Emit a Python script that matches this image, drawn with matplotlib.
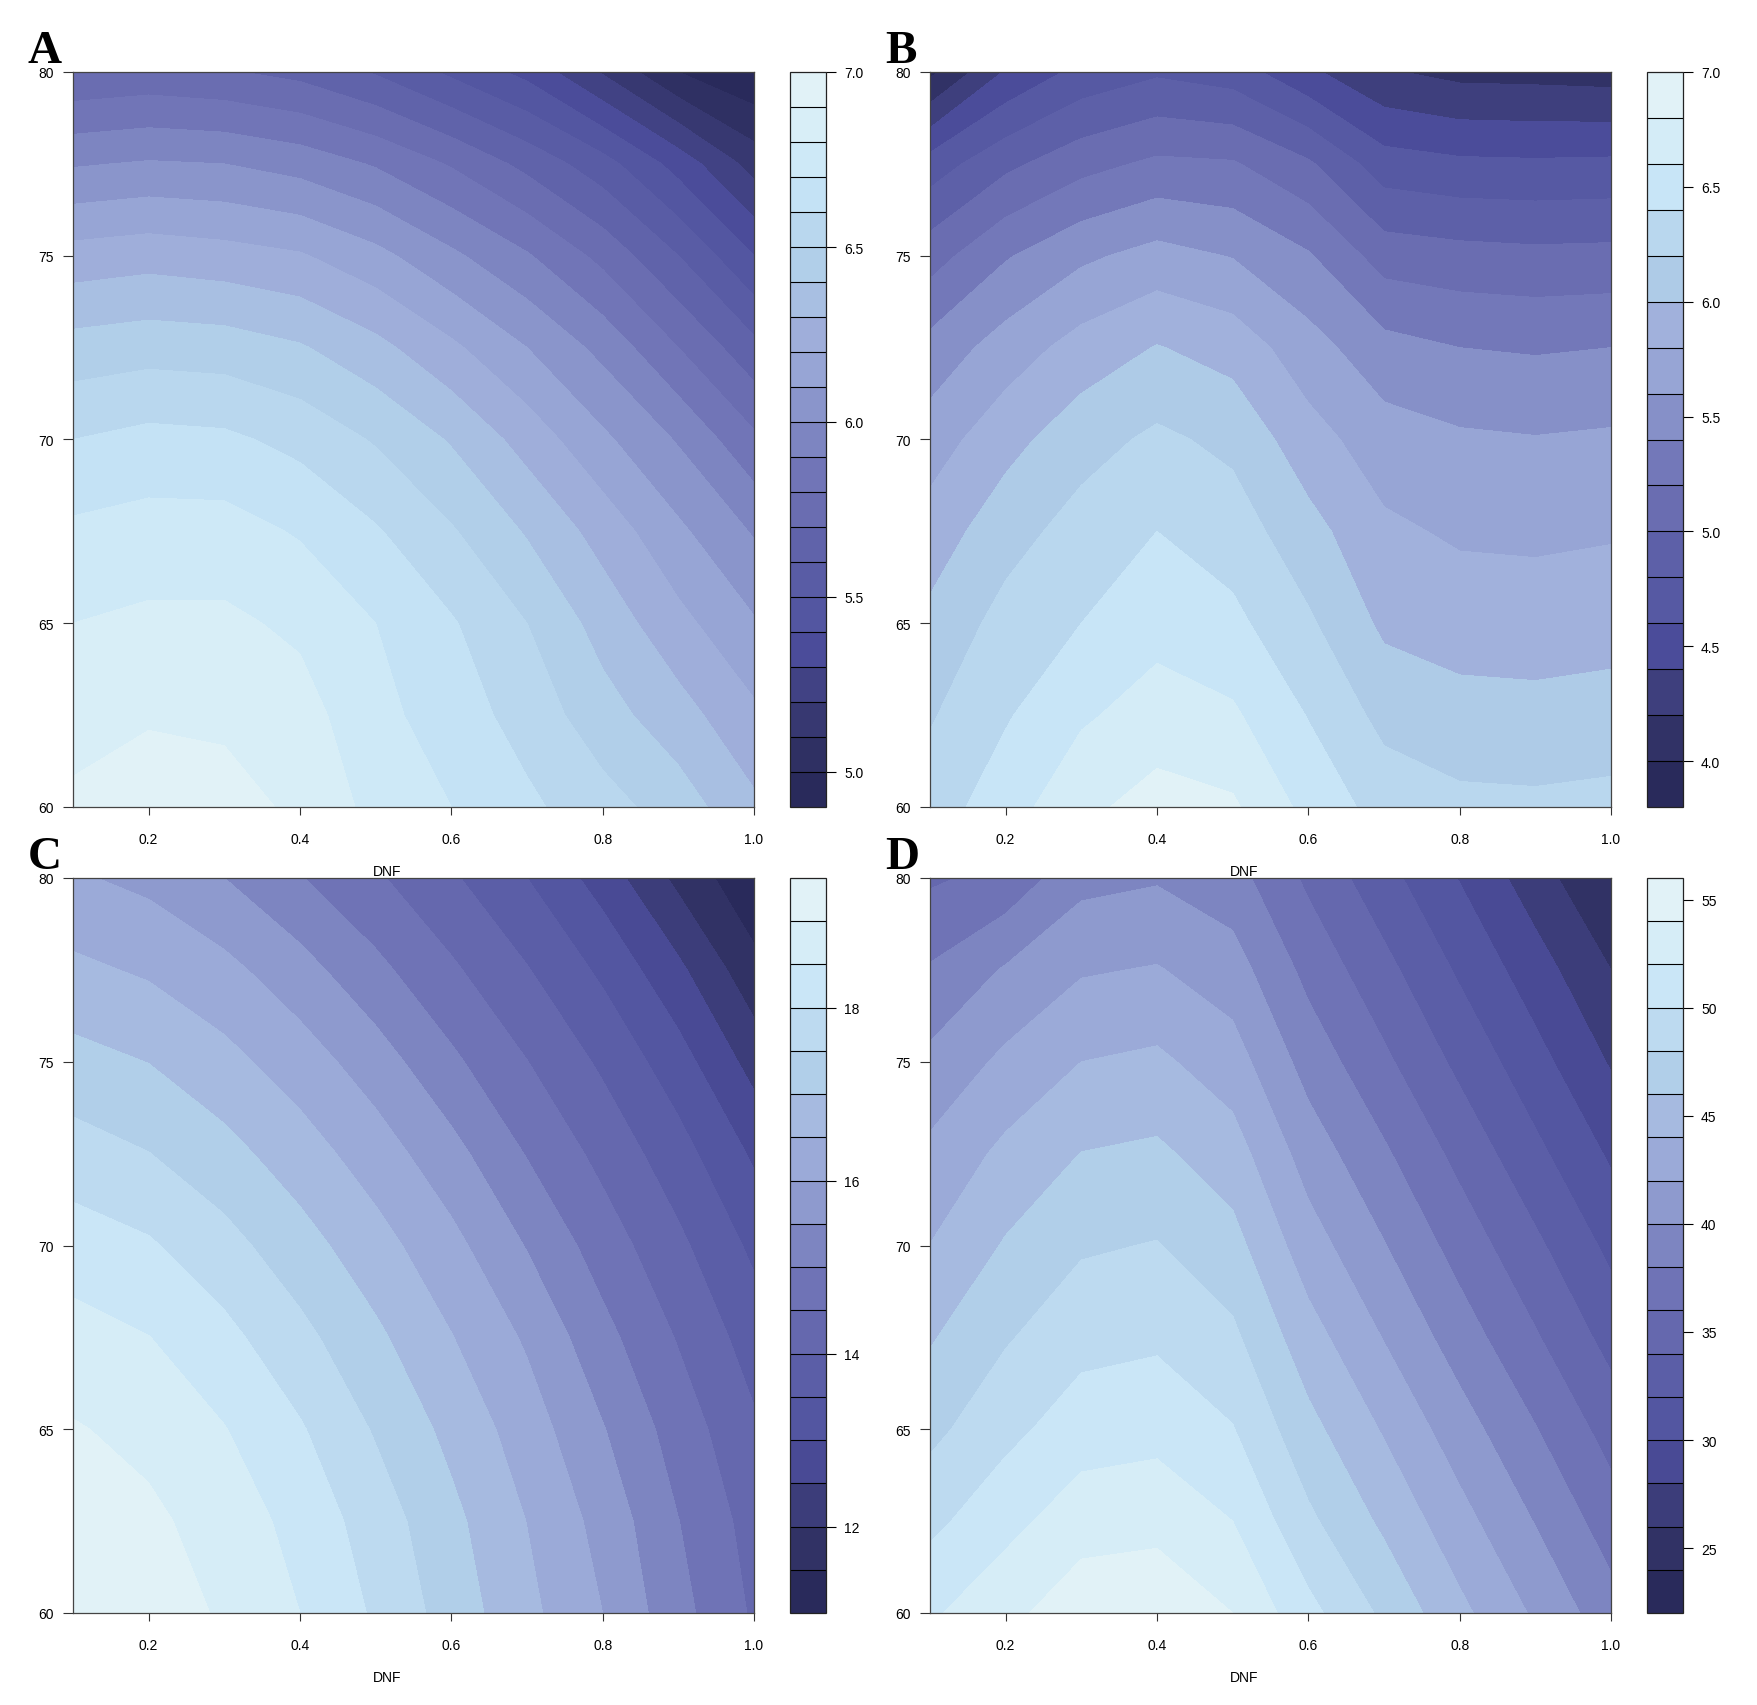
import numpy as np
import matplotlib
matplotlib.use("Agg")
import matplotlib.pyplot as plt
from matplotlib.colors import LinearSegmentedColormap
from matplotlib.ticker import FormatStrFormatter

plt.rcParams['font.family'] = ['Liberation Sans', 'DejaVu Sans']

# grid of the response surfaces (x = DNF, y = temperature)
dnf = [0.1, 0.2, 0.3, 0.4, 0.5, 0.6, 0.7, 0.8, 0.9, 1.0]
temp = [60, 62.5, 65, 67.5, 70, 72.5, 75, 77.5, 80]

# rows go from temp 60 (first) up to temp 80 (last)
z_a = [
    [6.92, 6.95, 6.94, 6.88, 6.77, 6.70, 6.62, 6.54, 6.45, 6.32],
    [6.86, 6.89, 6.88, 6.84, 6.73, 6.65, 6.56, 6.44, 6.34, 6.22],
    [6.80, 6.82, 6.82, 6.78, 6.70, 6.61, 6.50, 6.36, 6.23, 6.11],
    [6.72, 6.74, 6.74, 6.69, 6.61, 6.51, 6.39, 6.26, 6.12, 5.99],
    [6.60, 6.63, 6.62, 6.57, 6.49, 6.39, 6.26, 6.12, 5.99, 5.82],
    [6.44, 6.46, 6.45, 6.41, 6.33, 6.22, 6.10, 5.97, 5.80, 5.63],
    [6.24, 6.26, 6.24, 6.21, 6.13, 6.02, 5.91, 5.77, 5.60, 5.40],
    [5.99, 6.01, 6.00, 5.96, 5.89, 5.79, 5.67, 5.54, 5.36, 5.16],
    [5.71, 5.73, 5.71, 5.67, 5.59, 5.48, 5.37, 5.19, 5.00, 4.91],
]

z_b = [
    [6.30, 6.51, 6.75, 6.88, 6.83, 6.54, 6.32, 6.25, 6.24, 6.26],
    [6.18, 6.38, 6.57, 6.69, 6.63, 6.39, 6.14, 6.07, 6.06, 6.08],
    [6.05, 6.27, 6.40, 6.53, 6.45, 6.23, 5.96, 5.91, 5.90, 5.92],
    [5.89, 6.12, 6.28, 6.40, 6.30, 6.07, 5.84, 5.77, 5.76, 5.78],
    [5.70, 5.93, 6.12, 6.24, 6.15, 5.88, 5.69, 5.63, 5.61, 5.63],
    [5.47, 5.69, 5.88, 6.01, 5.92, 5.68, 5.47, 5.40, 5.38, 5.40],
    [5.11, 5.38, 5.56, 5.67, 5.59, 5.42, 5.11, 5.07, 5.05, 5.06],
    [4.69, 4.95, 5.13, 5.24, 5.22, 5.03, 4.69, 4.64, 4.63, 4.64],
    [3.95, 4.42, 4.66, 4.77, 4.70, 4.44, 4.22, 4.14, 4.13, 4.11],
]

z_c = [
    [19.45, 19.21, 18.95, 18.50, 17.93, 17.28, 16.63, 16.00, 15.17, 14.43],
    [19.25, 19.10, 18.79, 18.33, 17.76, 17.13, 16.49, 15.83, 15.01, 14.30],
    [19.04, 18.86, 18.52, 18.05, 17.45, 16.86, 16.25, 15.53, 14.77, 14.08],
    [18.69, 18.51, 18.14, 17.64, 17.10, 16.52, 15.93, 15.16, 14.46, 13.77],
    [18.25, 18.06, 17.67, 17.20, 16.69, 16.15, 15.47, 14.76, 14.11, 13.39],
    [17.72, 17.51, 17.17, 16.73, 16.25, 15.67, 14.97, 14.35, 13.70, 12.92],
    [17.17, 16.99, 16.65, 16.25, 15.74, 15.10, 14.51, 13.91, 13.21, 12.31],
    [16.61, 16.43, 16.14, 15.69, 15.13, 14.58, 14.03, 13.40, 12.61, 11.66],
    [16.06, 15.87, 15.50, 15.03, 14.57, 14.07, 13.50, 12.78, 11.87, 11.10],
]

z_d = [
    [51.70, 53.40, 55.30, 55.50, 54.00, 50.60, 47.60, 44.50, 41.70, 38.80],
    [49.47, 51.38, 53.08, 53.37, 52.00, 48.40, 45.60, 42.70, 39.90, 37.00],
    [47.45, 49.42, 51.06, 51.35, 50.10, 46.60, 43.80, 40.90, 38.10, 35.20],
    [45.80, 47.80, 49.33, 49.66, 48.40, 44.80, 41.90, 39.00, 36.20, 33.30],
    [44.03, 46.19, 47.75, 48.10, 46.70, 42.90, 40.10, 37.20, 34.40, 31.50],
    [42.47, 44.48, 46.04, 46.37, 44.90, 41.10, 38.30, 35.40, 32.50, 29.70],
    [40.50, 42.44, 44.00, 44.39, 42.90, 39.20, 36.40, 33.50, 30.70, 27.80],
    [38.20, 40.20, 41.80, 42.14, 40.90, 37.40, 34.60, 31.70, 28.90, 26.00],
    [35.70, 36.60, 39.40, 39.80, 38.80, 35.60, 32.70, 29.90, 26.90, 23.90],
]

# contour levels and key ticks
levels_a = np.round(np.arange(49, 71) / 10, 1)
levels_b = np.round(np.arange(19, 36) * 0.2, 1)
levels_c = np.arange(22, 40) * 0.5
levels_d = np.arange(22, 57, 2)
ticks_a = [5.0, 5.5, 6.0, 6.5, 7.0]
ticks_b = [4.0, 4.5, 5.0, 5.5, 6.0, 6.5, 7.0]
ticks_c = [12, 14, 16, 18]
ticks_d = [25, 30, 35, 40, 45, 50, 55]

palette = ['#292a5b', '#313266', '#3e3f7d', '#4b4c9a', '#5659a3', '#5d60a8',
           '#6a6db1', '#7378b9', '#8690c8', '#97a5d5', '#a1b1dc', '#aecbe7',
           '#b9d7ee', '#c8e5f7', '#d4ecf7', '#e1f2f7']
cmap = LinearSegmentedColormap.from_list('navy_cyan', palette)

W, H = 1757, 1706
fig = plt.figure(figsize=(W / 100, H / 100), dpi=100)


def px_axes(left, top, right, bottom):
    return fig.add_axes([left / W, 1 - bottom / H, (right - left) / W, (bottom - top) / H])


# letter, data, levels, key ticks, key format, plot left, plot top
panels = [
    ('A', z_a, levels_a, ticks_a, '%.1f', 73, 73),
    ('B', z_b, levels_b, ticks_b, '%.1f', 930, 73),
    ('C', z_c, levels_c, ticks_c, '%d', 73, 879),
    ('D', z_d, levels_d, ticks_d, '%d', 930, 879),
]

for letter, z, levels, ticks, fmt, left, top in panels:
    right = left + 681
    bottom = top + 735
    ax = px_axes(left, top, right, bottom)
    cols = cmap(np.linspace(0, 1, len(levels) - 1))
    cs = ax.contourf(dnf, temp, np.array(z), levels=levels, colors=cols, antialiased=False)
    ax.set_xlim(0.1, 1.0)
    ax.set_ylim(60, 80)
    ax.set_xticks([0.2, 0.4, 0.6, 0.8, 1.0])
    ax.set_xticklabels(['0.2', '0.4', '0.6', '0.8', '1.0'])
    ax.set_yticks([60, 65, 70, 75, 80])
    ax.tick_params(axis='x', length=6, width=0.8, pad=12, labelsize=10, color='#333333')
    ax.tick_params(axis='y', length=7, width=0.8, pad=7, labelsize=10, color='#333333')
    for s in ax.spines.values():
        s.set_color('#444444')
        s.set_linewidth(0.9)

    # key on the right
    cax = px_axes(right + 36, top, right + 72, bottom)
    cb = fig.colorbar(cs, cax=cax, drawedges=True)
    cb.set_ticks(ticks)
    cb.ax.yaxis.set_major_formatter(FormatStrFormatter(fmt))
    cb.ax.tick_params(length=7, width=0.8, pad=6, labelsize=10)
    cb.dividers.set_color('black')
    cb.dividers.set_linewidth(0.8)
    cb.outline.set_edgecolor('#222222')
    cb.outline.set_linewidth(0.9)

    fig.text((left + 314) / W, 1 - (bottom + 64) / H, 'DNF', ha='center', va='center', fontsize=10)
    fig.text((left - 45) / W, 1 - (top - 10) / H, letter, ha='left', va='baseline',
             fontsize=34, fontweight='bold', family=['Liberation Serif', 'DejaVu Serif'])

fig.savefig('out.png', dpi=100)
